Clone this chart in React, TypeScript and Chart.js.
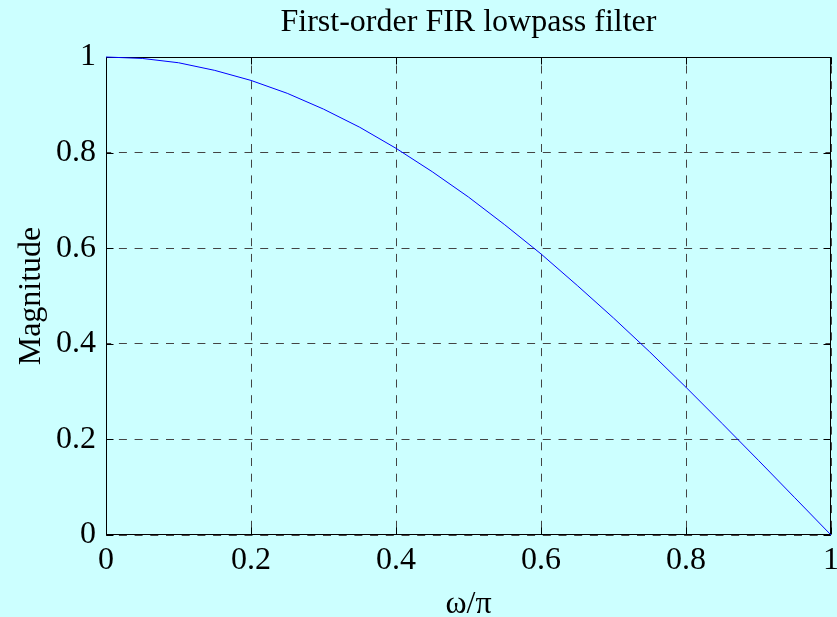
import React, { useEffect, useRef } from "react";
import { Chart, registerables } from "chart.js";

Chart.register(...registerables);

// Normalised frequency ω/π and magnitude response of the filter
const omega = [
  0, 0.05, 0.1, 0.15, 0.2, 0.25, 0.3, 0.35, 0.4, 0.45, 0.5,
  0.55, 0.6, 0.65, 0.7, 0.75, 0.8, 0.85, 0.9, 0.95, 1,
];
const magnitude = [
  1.0, 0.997, 0.988, 0.972, 0.951, 0.924, 0.891, 0.853, 0.809, 0.76, 0.707,
  0.649, 0.588, 0.522, 0.454, 0.383, 0.309, 0.233, 0.156, 0.078, 0.0,
];
const xTickLabels = ["0", "0.2", "0.4", "0.6", "0.8", "1"];
const yTickLabels = ["0", "0.2", "0.4", "0.6", "0.8", "1"];

const FONT = "'Liberation Serif', 'Times New Roman', serif";
const GRID_DASH = [8, 7.7];
const GRID_COLOR = "#444";

// Axes box with inward tick marks on all four sides
const boxPlugin = {
  id: "matlabBox",
  beforeDatasetsDraw(chart: any) {
    const { ctx, chartArea: a, scales } = chart;
    const L = Math.round(a.left) + 0.5;
    const R = Math.round(a.right) - 0.5;
    const T = Math.round(a.top) + 0.5;
    const B = Math.round(a.bottom) - 0.5;
    const len = 7;
    ctx.save();
    ctx.strokeStyle = "#000";
    ctx.lineWidth = 1;
    ctx.setLineDash([]);
    ctx.beginPath();
    scales.x.ticks.forEach((t: any) => {
      const px = Math.round(scales.x.getPixelForValue(t.value)) + 0.5;
      ctx.moveTo(px, B);
      ctx.lineTo(px, B - len);
      ctx.moveTo(px, T);
      ctx.lineTo(px, T + len);
    });
    scales.y.ticks.forEach((t: any) => {
      const py = Math.round(scales.y.getPixelForValue(t.value)) + 0.5;
      ctx.moveTo(L, py);
      ctx.lineTo(L + len, py);
      ctx.moveTo(R, py);
      ctx.lineTo(R - len, py);
    });
    ctx.stroke();
    ctx.strokeRect(L, T, R - L, B - T);
    ctx.restore();
  },
};

export default function App() {
  const canvasRef = useRef<HTMLCanvasElement | null>(null);

  useEffect(() => {
    if (!canvasRef.current) return;
    const chart = new Chart(canvasRef.current, {
      type: "line",
      data: {
        datasets: [
          {
            data: omega.map((w, i) => ({ x: w, y: magnitude[i] })),
            borderColor: "#0000ff",
            borderWidth: 1,
            pointRadius: 0,
            tension: 0,
            fill: false,
            clip: 2,
          },
        ],
      },
      options: {
        responsive: false,
        animation: false,
        events: [],
        layout: { padding: { left: 0, right: 6, top: 0, bottom: 0 } },
        plugins: {
          legend: { display: false },
          tooltip: { enabled: false },
          title: {
            display: true,
            fullSize: false,
            text: "First-order FIR lowpass filter",
            color: "#000",
            font: { family: FONT, size: 32, weight: "normal", lineHeight: 1 },
            padding: { top: 7, bottom: 18 },
          },
        },
        scales: {
          x: {
            type: "linear",
            min: 0,
            max: 1,
            afterFit(scale: any) {
              scale.height = 82;
              scale.paddingLeft = 0;
              scale.paddingRight = 0;
            },
            ticks: {
              stepSize: 0.2,
              padding: 10,
              maxRotation: 0,
              color: "#000",
              font: { family: FONT, size: 32, lineHeight: 1 },
              callback: (_v: any, i: number) => xTickLabels[i],
            },
            grid: { color: GRID_COLOR, lineWidth: 1, drawTicks: false },
            border: { display: false, dash: GRID_DASH, dashOffset: 7.2 },
            title: {
              display: true,
              text: "ω/π",
              color: "#000",
              font: { family: FONT, size: 32, lineHeight: 0.8 },
              padding: 0,
            },
          },
          y: {
            type: "linear",
            min: 0,
            max: 1,
            afterFit(scale: any) {
              scale.width = 106;
              scale.paddingTop = 0;
              scale.paddingBottom = 0;
            },
            ticks: {
              stepSize: 0.2,
              padding: 10,
              color: "#000",
              font: { family: FONT, size: 32, lineHeight: 1 },
              callback: (_v: any, i: number) => yTickLabels[i],
            },
            grid: { color: GRID_COLOR, lineWidth: 1, drawTicks: false },
            border: { display: false, dash: GRID_DASH, dashOffset: 2.8 },
            title: {
              display: true,
              text: "Magnitude",
              color: "#000",
              font: { family: FONT, size: 32, lineHeight: 1 },
              padding: { top: 16, bottom: 0 },
            },
          },
        },
      },
      plugins: [boxPlugin],
    });
    return () => chart.destroy();
  }, []);

  return (
    <div
      style={{
        position: "fixed",
        left: 0,
        top: 0,
        width: 837,
        height: 617,
        background: "#ccffff",
      }}
    >
      <canvas ref={canvasRef} width={837} height={617} />
    </div>
  );
}
